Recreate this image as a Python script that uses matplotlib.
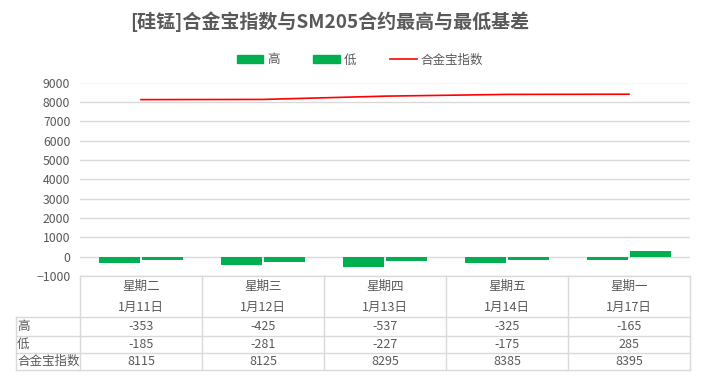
import matplotlib.pyplot as plt
from matplotlib.patches import Patch
from matplotlib.lines import Line2D

plt.rcParams['font.family'] = ['Noto Sans CJK SC', 'DejaVu Sans']

# 数据
weekdays = ["星期二", "星期三", "星期四", "星期五", "星期一"]
dates = ["1月11日", "1月12日", "1月13日", "1月14日", "1月17日"]
high = [-353, -425, -537, -325, -165]
low = [-185, -281, -227, -175, 285]
index_vals = [8115, 8125, 8295, 8385, 8395]

W, H = 706, 385
green = "#00B050"
grid_c = "#D9D9D9"
text_c = "#595959"

fig = plt.figure(figsize=(W / 100, H / 100), dpi=100)


def fx(px):
    return px / W


def fy(py):
    return 1 - py / H


# ===== 图区 =====
left, right, top, bottom = 80, 690, 82.5, 276
ax = fig.add_axes([fx(left), fy(bottom), fx(right - left), fy(top) - fy(bottom)])
x = list(range(len(weekdays)))
ax.bar([i - 0.177 for i in x], high, width=0.33, color=green, zorder=3)
ax.bar([i + 0.177 for i in x], low, width=0.33, color=green, zorder=3)
ax.plot(x, index_vals, color="#FF0000", linewidth=1.2, zorder=4)
ax.set_xlim(-0.5, len(weekdays) - 0.5)
ax.set_ylim(-1000, 9000)
ax.set_yticks(range(-1000, 9001, 1000))
ax.grid(axis="y", color=grid_c, linewidth=1)
ax.set_axisbelow(True)
for s in ax.spines.values():
    s.set_visible(False)
ax.set_xticks([])
ax.tick_params(axis="y", length=0, pad=7, labelsize=8.8, labelcolor=text_c)

# ===== 标题与图例 =====
fig.text(fx(330), fy(22), "[硅锰]合金宝指数与SM205合约最高与最低基差",
         ha="center", va="center", fontsize=13.7, fontweight="bold", color=text_c)

handles = [Patch(color=green), Patch(color=green),
           Line2D([0], [0], color="#FF0000", linewidth=1.2)]
fig.legend(handles, ["高", "低", "合金宝指数"], loc="center",
           bbox_to_anchor=(fx(360), fy(60)), ncol=3, frameon=False,
           fontsize=9, handlelength=2.1, handleheight=0.6,
           handletextpad=0.35, columnspacing=2.7, labelcolor=text_c)

# ===== 数据表 =====
col_w = (right - left) / len(weekdays)
rows_y = [317.3, 335.7, 353.3, 370.3]
lab_left = 15.7
line_kw = dict(color=grid_c, linewidth=1, transform=fig.transFigure)

# 横线
fig.add_artist(Line2D([fx(left), fx(right)], [fy(bottom), fy(bottom)], **line_kw))
for yy in rows_y:
    fig.add_artist(Line2D([fx(lab_left), fx(right)], [fy(yy), fy(yy)], **line_kw))
# 竖线
for i in range(len(weekdays) + 1):
    xx = left + i * col_w
    fig.add_artist(Line2D([fx(xx), fx(xx)], [fy(bottom), fy(rows_y[-1])], **line_kw))
fig.add_artist(Line2D([fx(lab_left), fx(lab_left)], [fy(rows_y[0]), fy(rows_y[-1])], **line_kw))

tkw = dict(fontsize=9, color=text_c, va="center")
for i in range(len(weekdays)):
    cx = left + (i + 0.5) * col_w
    fig.text(fx(cx), fy(286), weekdays[i], ha="center", **tkw)
    fig.text(fx(cx), fy(307), dates[i], ha="center", **tkw)
    for r, vals in enumerate([high, low, index_vals]):
        cy = (rows_y[r] + rows_y[r + 1]) / 2
        fig.text(fx(cx), fy(cy), str(vals[i]), ha="center", **tkw)

for r, name in enumerate(["高", "低", "合金宝指数"]):
    cy = (rows_y[r] + rows_y[r + 1]) / 2
    fig.text(fx(lab_left + 1.5), fy(cy), name, ha="left", **tkw)

fig.savefig("out.png", dpi=100)
